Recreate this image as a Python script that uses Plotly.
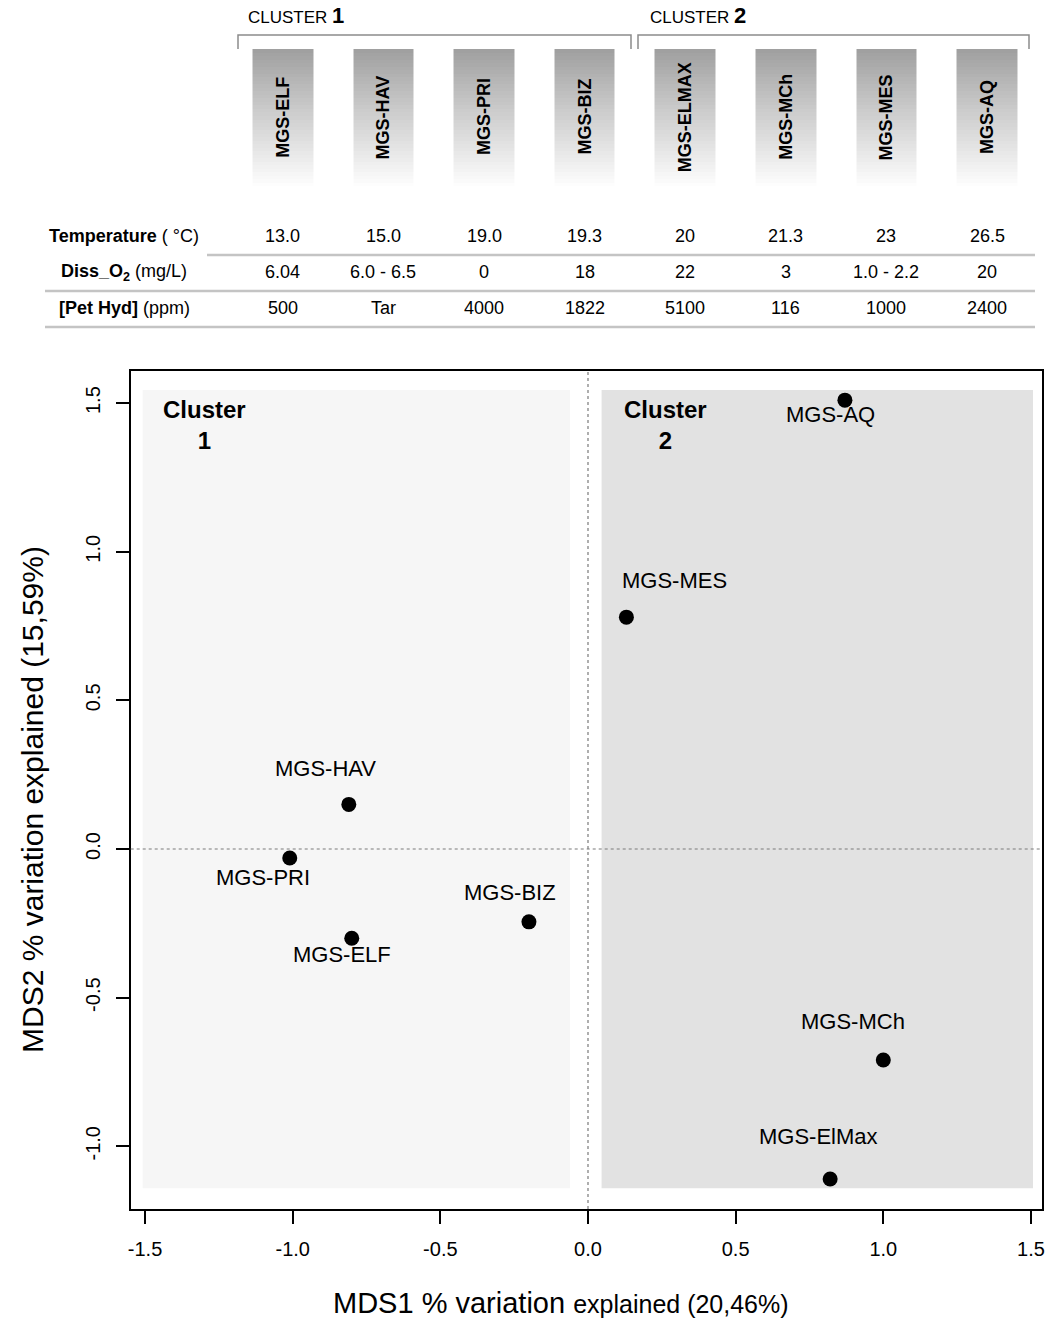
import plotly.graph_objects as go

# MDS ordination of the samples
point_names = ["MGS-ELF", "MGS-HAV", "MGS-PRI", "MGS-BIZ",
               "MGS-ElMax", "MGS-MCh", "MGS-MES", "MGS-AQ"]
mds1 = [-0.80, -0.81, -1.01, -0.20, 0.82, 1.00, 0.13, 0.87]
mds2 = [-0.30, 0.15, -0.03, -0.245, -1.11, -0.71, 0.78, 1.51]

# header table (samples ordered by temperature)
header_names = ["MGS-ELF", "MGS-HAV", "MGS-PRI", "MGS-BIZ",
                "MGS-ELMAX", "MGS-MCh", "MGS-MES", "MGS-AQ"]
temperature = ["13.0", "15.0", "19.0", "19.3", "20", "21.3", "23", "26.5"]
diss_o2 = ["6.04", "6.0 - 6.5", "0", "18", "22", "3", "1.0 - 2.2", "20"]
pet_hyd = ["500", "Tar", "4000", "1822", "5100", "116", "1000", "2400"]
row_labels = ["<b>Temperature</b> ( °C)",
              "<b>Diss_O<sub>2</sub></b> (mg/L)",
              "<b>[Pet Hyd]</b> (ppm)"]

tick_vals = [-1.5, -1.0, -0.5, 0.0, 0.5, 1.0, 1.5]
tick_text = ["-1.5", "-1.0", "-0.5", "0.0", "0.5", "1.0", "1.5"]
ytick_vals = [-1.0, -0.5, 0.0, 0.5, 1.0, 1.5]
ytick_text = ["-1.0", "-0.5", "0.0", "0.5", "1.0", "1.5"]

W, H = 1050, 1325
FONT = "Liberation Sans, Arial, Helvetica, sans-serif"


def px(x):
    return x / W


def py(y):
    return 1 - y / H


# label offsets in pixels (dx, dy up)
label_offsets = {
    "MGS-ELF": (-10, -16), "MGS-HAV": (-23, 36), "MGS-PRI": (-27, -20),
    "MGS-BIZ": (-19, 29), "MGS-ElMax": (-12, 42), "MGS-MCh": (-30, 39),
    "MGS-MES": (48, 37), "MGS-AQ": (-14, -14),
}

fig = go.Figure()

# gradient boxes of the header
n_rows = 40
grad = [[i / (n_rows - 1)] * len(header_names) for i in range(n_rows)]
fig.add_trace(go.Heatmap(
    x=header_names, y=list(range(n_rows)), z=grad,
    xaxis="x2", yaxis="y2", xgap=40, ygap=0,
    colorscale=[[0, "#a0a0a0"], [0.45, "#cdcdcd"], [1, "#ffffff"]],
    showscale=False, hoverinfo="skip",
))

fig.add_trace(go.Scatter(
    x=mds1, y=mds2, mode="markers", text=point_names,
    marker=dict(size=15, color="black"),
    hovertemplate="%{text}<br>MDS1: %{x}<br>MDS2: %{y}<extra></extra>",
    showlegend=False,
))

shapes = [
    # cluster backgrounds
    dict(type="rect", xref="x", yref="y", x0=-1.508, x1=-0.061, y0=-1.141, y1=1.544,
         fillcolor="#f6f6f6", line_width=0, layer="below"),
    dict(type="rect", xref="x", yref="y", x0=0.046, x1=1.507, y0=-1.141, y1=1.544,
         fillcolor="#e2e2e2", line_width=0, layer="below"),
    # dotted zero lines
    dict(type="line", xref="x", yref="y domain", x0=0, x1=0, y0=0, y1=1,
         line=dict(color="#7a7a7a", width=1.2, dash="dot"), layer="above"),
    dict(type="line", xref="x domain", yref="y", x0=0, x1=1, y0=0, y1=0,
         line=dict(color="#7a7a7a", width=1.2, dash="dot"), layer="above"),
]

# cluster brackets
for x0, x1 in [(238, 631), (638, 1029)]:
    shapes.append(dict(
        type="path", xref="paper", yref="paper",
        path=f"M {px(x0)},{py(49)} L {px(x0)},{py(35)} L {px(x1)},{py(35)} L {px(x1)},{py(49)}",
        line=dict(color="#8c8c8c", width=1.5),
    ))

# table separator lines
for y, x0 in [(255, 207), (291, 45), (327, 45)]:
    shapes.append(dict(type="line", xref="paper", yref="paper",
                       x0=px(x0), x1=px(1035), y0=py(y), y1=py(y),
                       line=dict(color="#c4c4c4", width=2.5)))

annotations = []
for name, x, y in zip(point_names, mds1, mds2):
    dx, dy = label_offsets[name]
    annotations.append(dict(x=x, y=y, xref="x", yref="y", text=name, showarrow=False,
                            xanchor="center", yanchor="middle",
                            xshift=dx, yshift=dy, font=dict(size=22, color="black")))

for txt, x in [("Cluster<br>1", -1.30), ("Cluster<br>2", 0.261)]:
    annotations.append(dict(x=x, y=1.53, xref="x", yref="y", text=f"<b>{txt}</b>",
                            showarrow=False, xanchor="center", yanchor="top",
                            font=dict(size=24, color="black")))

# header labels inside boxes
for name in header_names:
    annotations.append(dict(x=name, y=py(117), xref="x2", yref="paper", text=f"<b>{name}</b>",
                            showarrow=False, textangle=-90, xanchor="center", yanchor="middle",
                            font=dict(size=18, color="black")))

for num, x in [("1", 246), ("2", 648)]:
    annotations.append(dict(x=px(x), y=py(16), xref="paper", yref="paper",
                            xanchor="left", yanchor="middle",
                            text=f"CLUSTER <b><span style='font-size:22px'>{num}</span></b>",
                            showarrow=False, font=dict(size=17, color="black")))

# table rows
for lab, vals, y in zip(row_labels, [temperature, diss_o2, pet_hyd], [236, 272, 308]):
    annotations.append(dict(x=px(124), y=py(y), xref="paper", yref="paper", text=lab,
                            xanchor="center", yanchor="middle",
                            showarrow=False, font=dict(size=18, color="black")))
    for name, v in zip(header_names, vals):
        annotations.append(dict(x=name, y=py(y), xref="x2", yref="paper", text=v,
                                xanchor="center", yanchor="middle",
                                showarrow=False, font=dict(size=18, color="black")))

# axis titles
annotations.append(dict(x=px(561), y=py(1303), xref="paper", yref="paper",
                        xanchor="center", yanchor="middle",
                        text="MDS1 % variation <span style='font-size:25px'>explained (20,46%)</span>",
                        showarrow=False, font=dict(size=29, color="black")))
annotations.append(dict(x=px(32), y=py(800), xref="paper", yref="paper", textangle=-90,
                        xanchor="center", yanchor="middle",
                        text="MDS2 % variation explained (15,59%)",
                        showarrow=False, font=dict(size=30, color="black")))

fig.update_layout(
    width=W, height=H, autosize=False,
    margin=dict(l=0, r=0, t=0, b=0, autoexpand=False),
    paper_bgcolor="white", plot_bgcolor="white",
    font=dict(family=FONT, color="black"),
    showlegend=False,
    shapes=shapes, annotations=annotations,
    xaxis=dict(domain=[px(130.7), px(1041.7)], range=[-1.5486, 1.5364],
               tickvals=tick_vals, ticktext=tick_text, tickfont=dict(size=20),
               ticks="outside", ticklen=13, tickwidth=1.5, tickcolor="black",
               ticklabelstandoff=8,
               showline=True, mirror=True, linecolor="black", linewidth=1.8,
               showgrid=False, zeroline=False, anchor="y"),
    yaxis=dict(domain=[py(1209), py(371)], range=[-1.211, 1.608],
               tickvals=ytick_vals, ticktext=ytick_text, tickfont=dict(size=20),
               tickangle=-90, ticks="outside", ticklen=13, tickwidth=1.5, tickcolor="black",
               ticklabelstandoff=8,
               showline=True, mirror=True, linecolor="black", linewidth=1.5,
               showgrid=False, zeroline=False, anchor="x"),
    xaxis2=dict(domain=[px(232.5), px(1037.3)], type="category", visible=False,
                anchor="y2", fixedrange=True),
    yaxis2=dict(domain=[py(190), py(49)], range=[n_rows - 0.5, -0.5], visible=False,
                anchor="x2", fixedrange=True),
)

fig.write_html("out.html", config={"displayModeBar": False},
               post_script="document.body.style.margin='0px';")
